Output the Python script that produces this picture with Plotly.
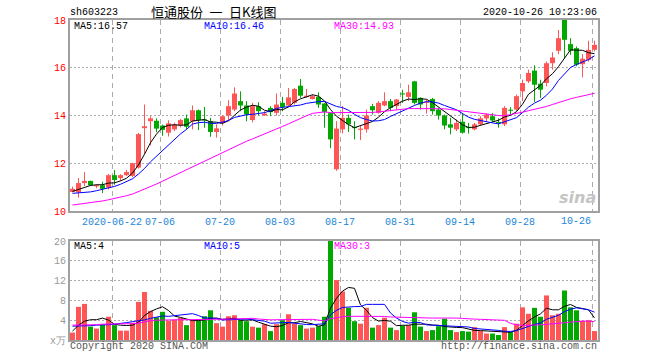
import plotly.graph_objects as go

# ---------------- data ----------------
opens = [10.80, 10.78, 11.17, 11.26, 11.03, 11.08, 10.98, 11.50, 11.38, 11.50,
         11.47, 11.82, 13.47, 13.76, 13.78, 13.58, 13.28, 13.42, 13.58, 13.88,
         13.76, 14.22, 13.82, 13.76, 13.31, 13.69, 14.00, 14.25, 14.60, 14.42,
         13.81, 14.39, 14.00, 14.32, 14.11, 14.53, 14.42, 14.53, 15.25, 14.78,
         14.69, 14.78, 14.50, 14.10, 11.75, 13.42, 13.90, 13.50, 13.40, 13.42,
         14.39, 14.11, 14.42, 14.60, 14.39, 14.90, 14.78, 15.43, 14.74, 14.53,
         14.69, 14.25, 14.00, 13.63, 13.42, 13.74, 13.50, 13.42, 13.63, 13.88,
         13.97, 13.70, 13.63, 14.22, 14.25, 15.01, 15.43, 15.88, 15.33, 15.36,
         16.19, 16.71, 18.00, 16.99, 16.82, 16.15, 16.33, 16.75]
highs = [11.02, 11.38, 11.63, 11.27, 11.12, 11.22, 11.55, 11.72, 11.54, 11.72,
         12.02, 13.27, 14.46, 13.97, 13.88, 13.62, 13.80, 13.70, 13.86, 14.04,
         14.42, 14.25, 14.36, 13.90, 13.63, 14.00, 14.64, 15.18, 15.01, 14.60,
         14.53, 14.56, 14.18, 14.39, 14.92, 14.78, 15.15, 15.15, 15.53, 15.11,
         14.88, 14.97, 14.53, 14.12, 13.76, 14.39, 14.04, 13.76, 13.56, 14.25,
         14.49, 14.60, 14.97, 14.69, 14.69, 15.08, 15.29, 15.45, 14.76, 14.67,
         14.74, 14.32, 14.04, 13.90, 13.83, 14.11, 13.69, 13.69, 13.97, 14.10,
         14.10, 13.88, 14.39, 14.35, 14.88, 15.50, 15.92, 16.10, 15.50, 16.26,
         16.65, 17.58, 18.00, 17.24, 16.89, 16.57, 17.13, 17.13]
lows = [10.78, 10.56, 11.05, 11.05, 10.95, 10.75, 10.90, 11.10, 11.26, 11.47,
        11.42, 11.78, 12.40, 12.75, 13.30, 13.15, 13.12, 13.35, 13.50, 13.42,
        13.42, 13.39, 13.49, 13.11, 13.07, 13.58, 13.80, 14.18, 14.18, 13.76,
        13.72, 14.00, 13.98, 13.97, 14.00, 14.18, 14.39, 14.46, 14.74, 14.74,
        14.67, 14.32, 13.49, 12.63, 11.68, 13.25, 13.31, 13.00, 12.97, 13.28,
        14.04, 14.08, 14.39, 14.18, 14.25, 14.53, 14.60, 14.46, 14.25, 14.08,
        14.04, 13.83, 13.42, 13.21, 13.35, 13.24, 13.24, 13.38, 13.56, 13.76,
        13.74, 13.49, 13.56, 14.04, 14.18, 14.60, 15.36, 14.57, 14.74, 15.22,
        15.92, 16.57, 16.40, 16.54, 16.06, 15.60, 16.26, 16.68]
closes = [10.93, 11.17, 11.26, 11.08, 11.08, 10.93, 11.50, 11.30, 11.50, 11.63,
          12.00, 13.22, 13.55, 13.88, 13.45, 13.40, 13.67, 13.63, 13.81, 13.53,
          14.22, 13.81, 13.79, 13.31, 13.46, 13.97, 14.39, 14.92, 14.42, 14.04,
          14.39, 14.18, 14.08, 14.14, 14.46, 14.36, 14.76, 15.11, 14.83, 14.83,
          14.81, 14.46, 14.14, 13.00, 13.45, 13.90, 13.63, 13.47, 13.45, 14.00,
          14.22, 14.53, 14.60, 14.32, 14.67, 14.88, 14.97, 14.53, 14.46, 14.58,
          14.18, 14.00, 13.58, 13.49, 13.69, 13.28, 13.47, 13.63, 13.88, 14.04,
          13.79, 13.68, 14.32, 14.20, 14.81, 15.36, 15.78, 15.29, 15.08, 16.19,
          16.43, 17.24, 17.17, 16.71, 16.13, 16.38, 16.75, 16.96]
ma5 = [10.82, 10.90, 10.98, 11.07, 11.10, 11.10, 11.17, 11.18, 11.26, 11.37,
       11.59, 11.93, 12.38, 12.86, 13.22, 13.50, 13.59, 13.61, 13.59, 13.61,
       13.77, 13.80, 13.83, 13.73, 13.72, 13.67, 13.78, 14.01, 14.23, 14.35,
       14.43, 14.39, 14.22, 14.17, 14.25, 14.24, 14.36, 14.57, 14.70, 14.78,
       14.87, 14.81, 14.61, 14.25, 13.97, 13.79, 13.62, 13.49, 13.58, 13.69,
       13.75, 13.93, 14.16, 14.33, 14.47, 14.60, 14.69, 14.67, 14.70, 14.68,
       14.54, 14.35, 14.16, 13.97, 13.79, 13.61, 13.50, 13.51, 13.59, 13.66,
       13.76, 13.80, 13.94, 14.01, 14.16, 14.47, 14.89, 15.09, 15.26, 15.54,
       15.75, 16.05, 16.42, 16.75, 16.74, 16.73, 16.63, 16.59]
ma10 = [10.74, 10.75, 10.77, 10.80, 10.85, 10.90, 10.96, 11.03, 11.12, 11.24,
        11.35, 11.55, 11.78, 12.06, 12.30, 12.55, 12.77, 13.00, 13.23, 13.42,
        13.64, 13.70, 13.72, 13.67, 13.67, 13.72, 13.79, 13.92, 13.98, 14.03,
        14.05, 14.09, 14.12, 14.20, 14.30, 14.34, 14.38, 14.39, 14.44, 14.51,
        14.56, 14.58, 14.59, 14.48, 14.38, 14.33, 14.22, 14.05, 13.91, 13.83,
        13.77, 13.78, 13.83, 13.96, 14.08, 14.18, 14.31, 14.42, 14.52, 14.58,
        14.57, 14.52, 14.42, 14.33, 14.24, 14.08, 13.93, 13.84, 13.78, 13.72,
        13.69, 13.65, 13.73, 13.80, 13.91, 14.12, 14.35, 14.52, 14.64, 14.85,
        15.11, 15.47, 15.76, 16.01, 16.14, 16.24, 16.34, 16.50]
ma30 = [10.25, 10.28, 10.31, 10.34, 10.38, 10.42, 10.47, 10.52, 10.58, 10.64,
        10.71, 10.81, 10.91, 11.02, 11.13, 11.25, 11.37, 11.49, 11.61, 11.73,
        11.86, 11.98, 12.11, 12.23, 12.35, 12.47, 12.58, 12.70, 12.81, 12.92,
        13.02, 13.12, 13.21, 13.31, 13.42, 13.54, 13.65, 13.77, 13.89, 13.99,
        14.09, 14.13, 14.15, 14.12, 14.12, 14.13, 14.13, 14.12, 14.11, 14.13,
        14.13, 14.15, 14.18, 14.21, 14.24, 14.28, 14.29, 14.29, 14.29, 14.29,
        14.30, 14.29, 14.28, 14.25, 14.22, 14.19, 14.15, 14.11, 14.07, 14.04,
        14.01, 14.00, 13.99, 14.03, 14.08, 14.14, 14.20, 14.25, 14.31, 14.38,
        14.46, 14.55, 14.63, 14.70, 14.76, 14.82, 14.87, 14.93]
volumes = [1.5, 6.7, 7.3, 2.7, 2.3, 3.1, 4.7, 3.0, 1.9, 1.9,
           3.5, 7.7, 9.7, 5.9, 4.6, 5.7, 3.9, 4.1, 4.5, 3.0,
           4.1, 3.9, 4.8, 6.0, 3.4, 2.7, 4.8, 5.0, 4.0, 3.8,
           2.7, 2.5, 3.2, 1.8, 3.2, 4.0, 5.2, 3.3, 3.0, 2.3,
           2.5, 2.8, 4.7, 20.0, 12.1, 9.8, 6.5, 3.8, 3.3, 6.5,
           2.5, 3.0, 4.5, 2.5, 2.0, 2.9, 3.0, 5.6, 2.7, 1.8,
           2.0, 2.8, 4.3, 2.0, 1.6, 1.8, 1.7, 2.6, 1.8, 1.3,
           1.3, 1.0, 2.6, 1.6, 3.3, 6.6, 5.3, 6.5, 4.7, 9.0,
           5.0, 5.3, 10.0, 6.6, 6.0, 3.9, 4.0, 1.8]
vol_ma5 = [1.8, 3.0, 3.8, 4.1, 4.10, 4.42, 4.02, 3.16, 3.00, 2.92,
           3.00, 3.60, 4.94, 5.74, 6.28, 6.72, 5.96, 4.84, 4.56, 4.24,
           3.92, 3.92, 4.06, 4.36, 4.44, 4.16, 4.34, 4.38, 3.98, 4.06,
           4.06, 3.60, 3.24, 2.80, 2.68, 2.94, 3.48, 3.50, 3.74, 3.56,
           3.26, 2.78, 3.06, 6.46, 8.42, 9.88, 10.62, 10.44, 7.10, 5.98,
           4.52, 3.82, 3.96, 3.80, 2.90, 2.98, 2.98, 3.20, 3.24, 3.20,
           3.02, 2.98, 2.72, 2.58, 2.54, 2.50, 2.28, 1.94, 1.90, 1.84,
           1.74, 1.60, 1.60, 1.56, 1.96, 3.02, 3.88, 4.66, 5.28, 6.42,
           6.10, 6.10, 6.80, 7.18, 6.58, 6.36, 6.10, 4.46]
vol_ma10 = [2.8, 2.8, 2.9, 2.9, 3.0, 3.0, 3.1, 3.2, 3.3, 3.51,
            3.71, 3.81, 4.05, 4.37, 4.60, 4.86, 4.78, 4.89, 5.15, 5.26,
            5.32, 4.94, 4.45, 4.46, 4.34, 4.04, 4.13, 4.22, 4.17, 4.25,
            4.11, 3.97, 3.81, 3.39, 3.37, 3.50, 3.54, 3.37, 3.27, 3.12,
            3.10, 3.13, 3.28, 5.10, 5.99, 6.57, 6.70, 6.75, 6.78, 7.20,
            7.20, 7.22, 7.20, 5.45, 4.44, 3.75, 3.40, 3.58, 3.52, 3.05,
            3.00, 2.98, 2.96, 2.91, 2.87, 2.76, 2.63, 2.33, 2.24, 2.19,
            2.12, 1.94, 1.77, 1.73, 1.90, 2.38, 2.74, 3.13, 3.42, 4.19,
            4.56, 4.99, 5.73, 6.23, 6.50, 6.23, 6.10, 5.63]
vol_ma30 = [3.0, 3.0, 3.1, 3.1, 3.1, 3.2, 3.2, 3.2, 3.2, 3.3,
            3.3, 3.4, 3.7, 3.9, 4.0, 4.05, 4.1, 4.1, 4.1, 4.1,
            4.1, 4.1, 4.15, 4.2, 4.2, 4.2, 4.2, 4.25, 4.3, 4.34,
            4.38, 4.24, 4.10, 4.07, 4.10, 4.13, 4.15, 4.16, 4.20, 4.21,
            4.18, 4.01, 3.85, 4.32, 4.57, 4.70, 4.79, 4.78, 4.74, 4.86,
            4.80, 4.77, 4.76, 4.65, 4.60, 4.61, 4.55, 4.57, 4.52, 4.46,
            4.43, 4.44, 4.48, 4.49, 4.43, 4.36, 4.24, 4.22, 4.18, 4.15,
            4.11, 4.05, 3.98, 3.36, 3.07, 2.96, 2.92, 3.01, 3.06, 3.14,
            3.23, 3.30, 3.49, 3.62, 3.76, 3.79, 3.82, 3.70]

tick_index = [7, 15, 25, 35, 45, 55, 65, 75, 87]
tick_labels = ["2020-06-22", "07-06", "07-20", "08-03", "08-17",
               "08-31", "09-14", "09-28", "10-26"]
price_ticks = [10, 12, 14, 16, 18]
vol_ticks = [0, 4, 8, 12, 16, 20]
vol_tick_labels = ["x万", "4", "8", "12", "16", "20"]

title_code = "sh603223"
title_name = "恒通股份\u2002一\u2002日K线图"
title_time = "2020-10-26 10:23:06"
price_ma_labels = ["MA5:16.57", "MA10:16.46", "MA30:14.93"]
vol_ma_labels = ["MA5:4", "MA10:5", "MA30:3"]

# ---------------- styling ----------------
RED = "#FF5555"
GREEN = "#00A800"
MA_COLORS = ["#000000", "#0000FF", "#FF00FF"]
GRID = "#ababab"
FRAME = "#a0a0a0"
MONO = "Liberation Mono, DejaVu Sans Mono, monospace"
CJK = "Noto Sans CJK SC, sans-serif"

W, H = 660, 360
PLOT_L, PLOT_R, PLOT_T, PLOT_B = 70, 598, 20, 340   # pixels of the plot area

n = len(closes)
idx = list(range(n))
half = 0.41667
up = [c >= o for o, c in zip(opens, closes)]
colors = [RED if u else GREEN for u in up]
body_base = [min(o, c) for o, c in zip(opens, closes)]
body_h = [max(abs(c - o), 0.045) for o, c in zip(opens, closes)]

fig = go.Figure()

# candle bodies
fig.add_trace(go.Bar(x=idx, y=body_h, base=body_base, width=2 * half,
                     marker=dict(color=colors, line=dict(width=0)),
                     xaxis="x", yaxis="y", hoverinfo="skip"))
# wicks
for col, flag in ((RED, True), (GREEN, False)):
    wx, wy = [], []
    for i in idx:
        if up[i] == flag:
            wx += [i, i, None]
            wy += [lows[i], highs[i], None]
    fig.add_trace(go.Scatter(x=wx, y=wy, mode="lines",
                             line=dict(color=col, width=1),
                             xaxis="x", yaxis="y", hoverinfo="skip"))
# price MAs
for series, col in zip((ma5, ma10, ma30), MA_COLORS):
    fig.add_trace(go.Scatter(x=idx, y=series, mode="lines",
                             line=dict(color=col, width=1),
                             xaxis="x", yaxis="y", hoverinfo="skip"))

# volume bars
fig.add_trace(go.Bar(x=idx, y=volumes, width=2 * half,
                     marker=dict(color=colors, line=dict(width=0)),
                     xaxis="x2", yaxis="y2", hoverinfo="skip"))
for series, col in zip((vol_ma5, vol_ma10, vol_ma30), MA_COLORS):
    fig.add_trace(go.Scatter(x=idx, y=series, mode="lines",
                             line=dict(color=col, width=1),
                             xaxis="x2", yaxis="y2", hoverinfo="skip"))

grid_x = [t - half for t in tick_index]
xrange = [-half, n - half]

common_x = dict(range=xrange, tickvals=grid_x, showgrid=True, gridcolor=GRID,
                gridwidth=1, griddash="5px,4px", showline=True, linecolor=FRAME,
                linewidth=2, mirror=True, ticks="", zeroline=False, fixedrange=True)
common_y = dict(showgrid=True, gridcolor=GRID, gridwidth=1, griddash="2px,2px",
                showline=True, linecolor=FRAME, linewidth=2, mirror=True,
                ticks="", zeroline=False, fixedrange=True)

plot_h = PLOT_B - PLOT_T
fig.update_layout(
    width=W, height=H,
    margin=dict(l=PLOT_L, r=W - PLOT_R, t=PLOT_T, b=H - PLOT_B, pad=0,
                autoexpand=False),
    paper_bgcolor="white", plot_bgcolor="white",
    showlegend=False, barmode="overlay", hovermode=False,
    font=dict(family=MONO, size=10, color="#000"),
    xaxis=dict(domain=[0, 1], anchor="y",
               ticktext=tick_labels[:-1] + [""],
               tickfont=dict(family=MONO, size=10, color="#1a86d9"),
               **common_x),
    yaxis=dict(domain=[(PLOT_B - 211) / plot_h, 1], anchor="x", range=[10, 18],
               tickvals=price_ticks, ticktext=[str(v) for v in price_ticks],
               tickfont=dict(family=MONO, size=10, color="#ff0000"),
               **common_y),
    xaxis2=dict(domain=[0, 1], anchor="y2", showticklabels=False, **common_x),
    yaxis2=dict(domain=[0, (PLOT_B - 241) / plot_h], anchor="x2", range=[0, 20],
                tickvals=vol_ticks, ticktext=vol_tick_labels,
                tickfont=dict(family=MONO, size=10, color="#999999"),
                **common_y),
)

ann = []
def txt(text, x, y, color="#000", xanchor="left", size=10, family=MONO, xref="paper"):
    ann.append(dict(text=text, x=x, y=y, xref=xref, yref="paper", showarrow=False,
                    xanchor=xanchor, yanchor="middle", borderpad=0,
                    font=dict(family=family, size=size, color=color)))

def px_x(p):
    return (p - PLOT_L) / float(PLOT_R - PLOT_L)

def px_y(p):
    return (PLOT_B - p) / float(plot_h)

txt(title_code, px_x(69), px_y(12.5))
txt(title_name, px_x(213), px_y(11.5), xanchor="center", size=13, family=CJK)
txt(title_time, px_x(598), px_y(12.5), xanchor="right")
for label, col, xp in zip(price_ma_labels, MA_COLORS, (73, 203, 333)):
    txt(label, px_x(xp), px_y(26), color=col)
for label, col, xp in zip(vol_ma_labels, MA_COLORS, (73, 203, 333)):
    txt(label, px_x(xp), px_y(246), color=col)
# last date label, kept inside the frame
txt(tick_labels[-1], grid_x[-1], px_y(221.5), color="#1a86d9", xanchor="right", xref="x")
txt("Copyright 2020 SINA.COM", px_x(69), px_y(346), color="#555555")
txt("http://finance.sina.com.cn", px_x(598), px_y(346), color="#555555", xanchor="right")
txt("<b><i>sina</i></b>", px_x(597), px_y(197), color="#c4c4c4", xanchor="right",
    size=16, family="DejaVu Sans, sans-serif")
fig.update_layout(annotations=ann)

# place the figure at the window's top-left corner (no default page margin)
fig.write_html("out.html",
               config={"displayModeBar": False, "staticPlot": True},
               post_script="document.body.style.margin='0px';"
                           "document.body.style.padding='0px';")
